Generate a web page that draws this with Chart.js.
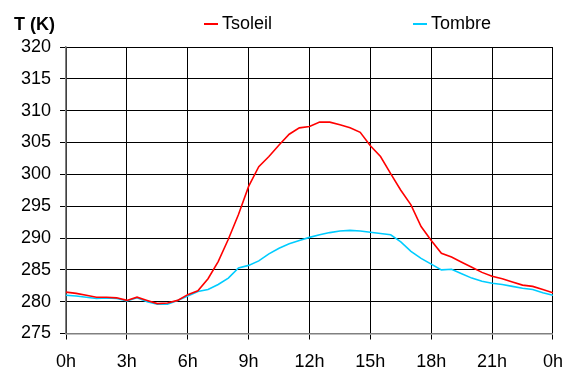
<!DOCTYPE html>
<html>
<head>
<meta charset="utf-8">
<script src="https://cdn.jsdelivr.net/npm/chart.js@4"></script>
<style>
  html, body { margin: 0; padding: 0; background: #fff; }
  #wrap { width: 575px; height: 367px; }
</style>
</head>
<body>
<div id="wrap"><canvas id="mainChart" width="575" height="367"></canvas></div>
<script>
// hours, every half hour
const hours = [0, 0.5, 1, 1.5, 2, 2.5, 3, 3.5, 4, 4.5, 5, 5.5, 6, 6.5, 7, 7.5, 8, 8.5, 9, 9.5,
    10, 10.5, 11, 11.5, 12, 12.5, 13, 13.5, 14, 14.5, 15, 15.5, 16, 16.5, 17, 17.5, 18, 18.5,
    19, 19.5, 20, 20.5, 21, 21.5, 22, 22.5, 23, 23.5, 24];

const tSoleil = [281.5, 281.3, 281.0, 280.7, 280.7, 280.6, 280.2, 280.7, 280.2, 279.7,
    279.8, 280.2, 281.1, 281.7, 283.6, 286.3, 289.8, 293.7, 298.1, 301.2,
    302.8, 304.6, 306.3, 307.3, 307.5, 308.2, 308.2, 307.8, 307.3, 306.6,
    304.5, 302.8, 300.1, 297.5, 295.2, 291.8, 289.6, 287.6, 287.0, 286.2,
    285.4, 284.6, 284.0, 283.6, 283.1, 282.6, 282.4, 281.9, 281.4];

const tOmbre = [281.0, 280.9, 280.7, 280.5, 280.6, 280.5, 280.1, 280.6, 280.0, 279.6,
    279.6, 280.2, 280.9, 281.6, 281.9, 282.7, 283.7, 285.3, 285.7, 286.4,
    287.5, 288.4, 289.1, 289.6, 290.1, 290.5, 290.85, 291.1, 291.2, 291.1,
    290.9, 290.7, 290.5, 289.4, 287.9, 286.8, 285.9, 285.0, 285.1, 284.4,
    283.7, 283.2, 282.9, 282.7, 282.4, 282.1, 281.9, 281.4, 281.0];

const xTickLabels = ['0h', '3h', '6h', '9h', '12h', '15h', '18h', '21h', '0h'];
const yTitle = 'T (K)';

const FONT = 'Liberation Sans, Arial, sans-serif';

// legend + axis title drawn on top
const labelsPlugin = {
    id: 'labels',
    afterDraw(chart) {
        const c = chart.ctx;
        c.save();
        c.font = 'bold 18px ' + FONT;
        c.fillStyle = '#000';
        c.textBaseline = 'middle';
        c.textAlign = 'left';
        c.fillText(yTitle, 14, 25);

        c.font = '18px ' + FONT;
        const items = [
            { x: 204, color: '#FF0000', text: 'Tsoleil' },
            { x: 413, color: '#00CCFF', text: 'Tombre' }
        ];
        items.forEach(it => {
            c.strokeStyle = it.color;
            c.lineWidth = 2;
            c.beginPath();
            c.moveTo(it.x, 24);
            c.lineTo(it.x + 14, 24);
            c.stroke();
            c.fillStyle = '#000';
            c.fillText(it.text, it.x + 18, 24);
        });
        c.restore();
    }
};

const ctx = document.getElementById('mainChart').getContext('2d');

new Chart(ctx, {
    type: 'line',
    data: {
        datasets: [{
            label: 'Tsoleil',
            data: hours.map((h, i) => ({ x: h, y: tSoleil[i] })),
            borderColor: '#FF0000',
            borderWidth: 1.6,
            pointRadius: 0,
            tension: 0
        }, {
            label: 'Tombre',
            data: hours.map((h, i) => ({ x: h, y: tOmbre[i] })),
            borderColor: '#00CCFF',
            borderWidth: 1.6,
            pointRadius: 0,
            tension: 0
        }]
    },
    options: {
        responsive: false,
        animation: false,
        layout: {
            padding: { left: 0, right: 18, top: 47, bottom: 0 }
        },
        plugins: {
            legend: { display: false },
            tooltip: { enabled: false }
        },
        scales: {
            x: {
                type: 'linear',
                min: 0,
                max: 24,
                afterFit: (scale) => { scale.height = 33.5; },
                afterBuildTicks: (scale) => {
                    scale.ticks = xTickLabels.map((_, i) => ({ value: i * 3 }));
                },
                grid: {
                    color: '#000',
                    lineWidth: 1,
                    tickLength: 6,
                    drawTicks: true
                },
                border: { color: '#808080', width: 1.5 },
                ticks: {
                    color: '#000',
                    padding: 12,
                    maxRotation: 0,
                    autoSkip: false,
                    font: { size: 18, family: FONT },
                    callback: (value) => xTickLabels[Math.round(value / 3)]
                }
            },
            y: {
                min: 275,
                max: 320,
                afterFit: (scale) => { scale.width = 66; },
                grid: {
                    color: '#000',
                    lineWidth: 1,
                    tickLength: 6,
                    drawTicks: true
                },
                border: { color: '#808080', width: 1.5 },
                ticks: {
                    stepSize: 5,
                    color: '#000',
                    padding: 9,
                    font: { size: 18, family: FONT }
                }
            }
        }
    },
    plugins: [labelsPlugin]
});
</script>
</body>
</html>
